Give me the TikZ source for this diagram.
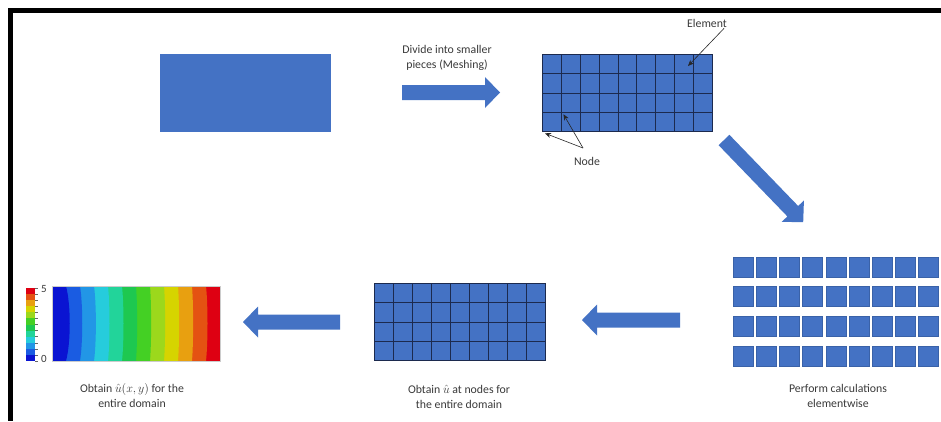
\documentclass[tikz,border=0pt]{standalone}
\usepackage{fontspec}
\setmainfont{Carlito}
\usetikzlibrary{arrows.meta,calc}

\definecolor{fem}{HTML}{4472C4}
\definecolor{femedge}{HTML}{3A62A8}
\definecolor{meshline}{HTML}{1C2A4E}
\definecolor{txt}{HTML}{3A3A3A}

% contour colours, from low (blue) to high (red)
\definecolor{c1}{HTML}{0A14D2}
\definecolor{c2}{HTML}{1A5CE2}
\definecolor{c3}{HTML}{2296E6}
\definecolor{c4}{HTML}{26CCDC}
\definecolor{c5}{HTML}{22D49A}
\definecolor{c6}{HTML}{1EC850}
\definecolor{c7}{HTML}{44D024}
\definecolor{c8}{HTML}{9CD81C}
\definecolor{c9}{HTML}{D6D400}
\definecolor{c10}{HTML}{E8A010}
\definecolor{c11}{HTML}{E45212}
\definecolor{c12}{HTML}{DE0012}

\begin{document}
\begin{tikzpicture}[x=1pt,y=-1pt,
  caption/.style={font=\fontsize{11.8}{15}\selectfont, text=txt, align=center, inner sep=0pt},
  pointer/.style={draw=black!85, line width=0.6pt, -{Stealth[length=6pt,width=5pt]}},
  domainbox/.style={fill=fem, inner sep=0pt, anchor=north west},
  meshbox/.style={fill=fem, draw=meshline, line width=0.8pt, inner sep=0pt, anchor=north west,
    minimum width=170pt, minimum height=77pt},
  gridrule/.style={draw=meshline, line width=0.8pt},
  cell/.style={fill=fem, draw=femedge, line width=0.6pt, inner sep=0pt, minimum size=20pt},
  pics/blockarrow/.style={code={
    \fill[fem] (0,-7.5) -- (#1-15,-7.5) -- (#1-15,-15.5) -- (#1,0)
      -- (#1-15,15.5) -- (#1-15,7.5) -- (0,7.5) -- cycle;}},
]
\useasboundingbox (0,0) rectangle (941,421);
\fill[white] (0,0) rectangle (941,421);

% frame on the top and left side
\fill[black] (8,8) rectangle (941,13);
\fill[black] (8,8) rectangle (13,421);

% ---- continuous domain
\node[domainbox, minimum width=171pt, minimum height=78pt] (domain) at (160,54) {};

% ---- meshing step
\node[caption] (meshcap) at (447,58) {Divide into smaller\\pieces (Meshing)};
\pic at (402,92.5) {blockarrow=98};

\node[meshbox] (mesh) at (542,54) {};
\foreach \k in {1,...,8}
  \draw[gridrule] ($(mesh.north west)!\k/9!(mesh.north east)$) -- ($(mesh.south west)!\k/9!(mesh.south east)$);
\foreach \k in {1,2,3}
  \draw[gridrule] ($(mesh.north west)!\k/4!(mesh.south west)$) -- ($(mesh.north east)!\k/4!(mesh.south east)$);

\node[caption] (elemlabel) at (707,23) {Element};
\coordinate (elemtarget) at (688,66);
\draw[pointer] ([xshift=-3pt,yshift=-1pt]elemlabel.south east) -- (elemtarget);

\node[caption] (nodelabel) at (587,161) {Node};
\coordinate (nodefork) at (583,148);
\coordinate (innernode) at ($(mesh.north west)!1/9!(mesh.north east)+(0,57.75)$);
\coordinate (cornernode) at (mesh.south west);
\draw[pointer] (nodefork) -- ([shift={(2.5pt,-2.5pt)}]innernode);
\draw[pointer] (nodefork) -- ([shift={(3pt,-1.5pt)}]cornernode);

% ---- elementwise calculation
\pic[rotate=-46] at (724,140) {blockarrow=114};

\foreach \c in {0,...,8}
  \foreach \r in {0,...,3}
    \node[cell] (sq-\c-\r) at (743+23.2*\c, 267+29.6*\r) {};
\node[caption] (calccap) at (838,396) {Perform calculations\\elementwise};

% ---- nodal solution
\pic[rotate=180] at (680,320) {blockarrow=98};

\node[meshbox, minimum width=171pt] (mesh2) at (374,283) {};
\foreach \k in {1,...,8}
  \draw[gridrule] ($(mesh2.north west)!\k/9!(mesh2.north east)$) -- ($(mesh2.south west)!\k/9!(mesh2.south east)$);
\foreach \k in {1,2,3}
  \draw[gridrule] ($(mesh2.north west)!\k/4!(mesh2.south west)$) -- ($(mesh2.north east)!\k/4!(mesh2.south east)$);
\node[caption] (nodalcap) at (459,397) {Obtain $\hat{u}$ at nodes for\\the entire domain};

% ---- field over the whole domain
\pic[rotate=180] at (340,322) {blockarrow=97};

% contour bands, painted right to left so each one trims the next
\fill[c12] (52,286) rectangle (220,361);
\foreach \i/\b in {11/2, 10/1.5, 9/1.5, 8/1.5, 7/1.5, 6/1.5, 5/2, 4/2, 3/2.5, 2/3, 1/5} {
  \pgfmathsetmacro{\xr}{52+14*\i}
  \fill[c\i] (52,286) -- (\xr,286) .. controls (\xr+\b,305) and (\xr+\b,342) .. (\xr,361) -- (52,361) -- cycle;
}
\node[inner sep=0pt, minimum width=168pt, minimum height=75pt, anchor=north west, draw=black!20, line width=0.4pt] (field) at (52,286) {};

% colour bar
\foreach \i in {1,...,12} {
  \pgfmathsetmacro{\ytop}{361-73/12*\i}
  \pgfmathsetmacro{\ybot}{361-73/12*(\i-1)}
  \fill[c\i] (26,\ytop) rectangle (35,\ybot);
  \draw[black!60, line width=0.4pt] (35,\ybot) -- (37.5,\ybot);
}
\draw[black!60, line width=0.4pt] (35,288) -- (37.5,288);
\node[inner sep=0pt, minimum width=9pt, minimum height=73pt, anchor=north west] (cbar) at (26,288) {};
\node[font=\fontsize{11}{12}\selectfont, text=txt, anchor=west, inner sep=0pt] (cmax) at (41,289) {5};
\node[font=\fontsize{11}{12}\selectfont, text=txt, anchor=west, inner sep=0pt] (cmin) at (41,359) {0};

\node[caption] (fieldcap) at (132,396) {Obtain $\hat{u}(x,y)$ for the\\entire domain};
\end{tikzpicture}
\end{document}
